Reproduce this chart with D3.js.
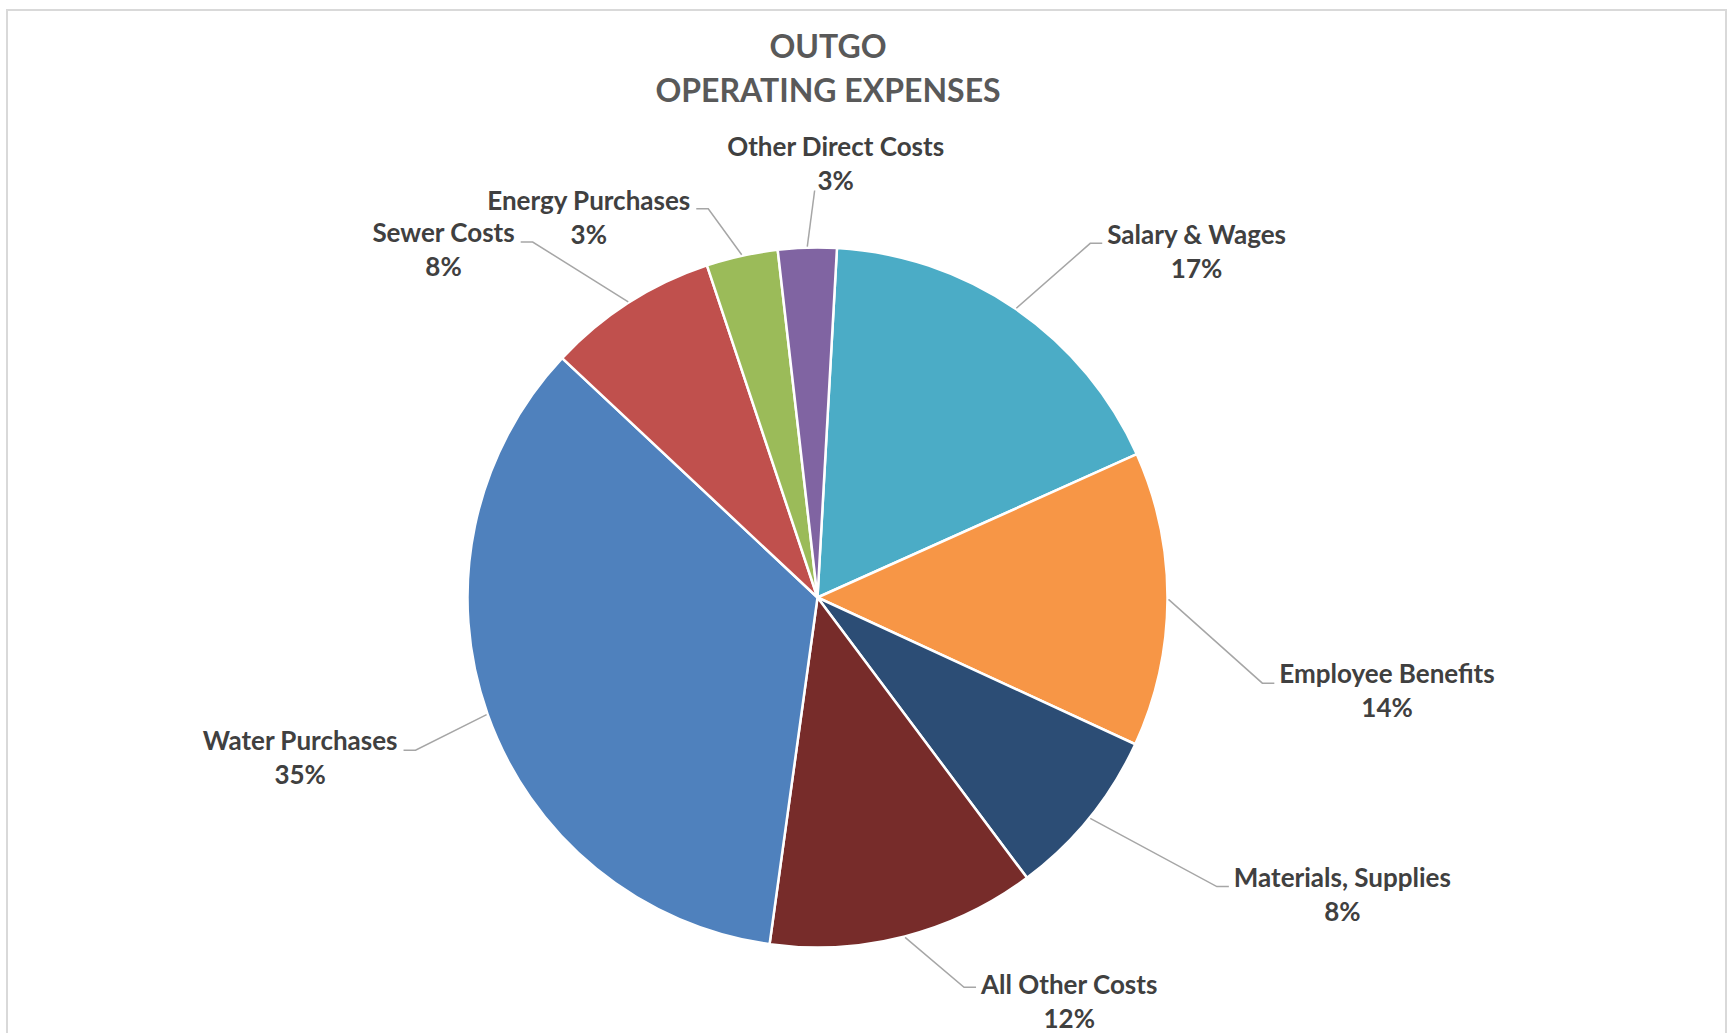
<!DOCTYPE html>
<html>
<head>
<meta charset="utf-8">
<script src="https://cdn.jsdelivr.net/npm/d3@7"></script>
<style>
  html, body { margin: 0; padding: 0; background: #fff; overflow: hidden; }
  svg { display: block; }
</style>
</head>
<body>
<svg id="chart" width="1729" height="1033"></svg>
<script>
// ---- data ----
const categories = [
  "Salary & Wages",
  "Employee Benefits",
  "Materials, Supplies",
  "All Other Costs",
  "Water Purchases",
  "Sewer Costs",
  "Energy Purchases",
  "Other Direct Costs"
];
const shares = [17.4, 13.6, 7.9, 12.4, 34.8, 7.9, 3.3, 2.7];
const sliceColors = ["#4BACC6", "#F79646", "#2C4D75", "#772C2A", "#4F81BD", "#C0504D", "#9BBB59", "#8064A2"];
const titleLines = ["OUTGO", "OPERATING EXPENSES"];

// ---- label placement (polar, from the pie centre) ----
const labelLayout = [
  { dist: 447,   angle: 37.6,  side: "right", dy: 0.5 },
  { dist: 453,   angle: 100.9, side: "right", dy: 0 },
  { dist: 493,   angle: 125.9, side: "right", dy: 0 },
  { dist: 416.5, angle: 159.4, side: "right", dy: 6.6 },
  { dist: 430,   angle: 249.2, side: "left",  dy: 0 },
  { dist: 455.5, angle: 321.3, side: "left",  dy: 0 },
  { dist: 403.7, angle: 344.3, side: "left",  dy: 1 },
  { dist: 407,   angle: 359.6, side: "top",   dy: 0 }
];

const FONT = "Lato, 'Open Sans', sans-serif";
const cx = 817.5, cy = 597.5, R = 350;
const rad = a => a * Math.PI / 180;

const svg = d3.select("#chart");

// chart frame
svg.append("rect")
  .attr("x", 7).attr("y", 10)
  .attr("width", 1719).attr("height", 1100)
  .attr("fill", "#fff")
  .attr("stroke", "#D9D9D9")
  .attr("stroke-width", 2);

// title
const title = svg.append("text")
  .attr("text-anchor", "middle")
  .attr("font-family", FONT)
  .attr("font-weight", 700)
  .attr("font-size", 32)
  .attr("fill", "#595959");
titleLines.forEach((t, i) => {
  title.append("tspan").attr("x", 828).attr("y", 58 + i * 43.5).text(t);
});

// pie
const data = categories.map((c, i) => ({ name: c, value: shares[i], color: sliceColors[i], layout: labelLayout[i] }));
const total = d3.sum(shares);
const start = rad(3.19);
const pie = d3.pie().sort(null).value(d => d.value).startAngle(start).endAngle(start + 2 * Math.PI);
const arcs = pie(data);
const arc = d3.arc().innerRadius(0).outerRadius(R);
const pct = d3.format(".0f");

const g = svg.append("g").attr("transform", `translate(${cx},${cy})`);

g.selectAll("path.slice")
  .data(arcs)
  .join("path")
  .attr("class", "slice")
  .attr("d", arc)
  .attr("fill", d => d.data.color)
  .attr("stroke", "#fff")
  .attr("stroke-width", 2.5)
  .attr("stroke-linejoin", "round");

// leader lines and data labels
const leaders = g.append("g");
const labels = g.append("g")
  .attr("font-family", FONT)
  .attr("font-weight", 700)
  .attr("font-size", 26)
  .attr("fill", "#404040")
  .attr("text-anchor", "middle");

const LINE = 34;

arcs.forEach(d => {
  const L = d.data.layout;
  const mid = (d.startAngle + d.endAngle) / 2;
  const sx = (R + 1) * Math.sin(mid), sy = -(R + 1) * Math.cos(mid);
  const ex = L.dist * Math.sin(rad(L.angle)), ey = -L.dist * Math.cos(rad(L.angle));

  const pts = [[sx, sy], [ex, ey]];
  if (L.side === "right") pts.push([ex + 12, ey]);
  if (L.side === "left") pts.push([ex - 12, ey]);

  leaders.append("path")
    .attr("d", d3.line()(pts))
    .attr("fill", "none")
    .attr("stroke", "#A6A6A6")
    .attr("stroke-width", 1.5);

  const t = labels.append("text");
  const l1 = t.append("tspan").text(d.data.name);
  const l2 = t.append("tspan").text(pct(d.data.value / total * 100) + "%");
  const w1 = l1.node().getComputedTextLength();

  let tx, by;
  if (L.side === "right") { tx = ex + 17 + w1 / 2; by = ey + L.dy; }
  else if (L.side === "left") { tx = ex - 18 - w1 / 2; by = ey + L.dy; }
  else { tx = ex + 21; by = ey - 1 - LINE; }

  l1.attr("x", tx).attr("y", by);
  l2.attr("x", tx).attr("y", by + LINE);
});
</script>
</body>
</html>
